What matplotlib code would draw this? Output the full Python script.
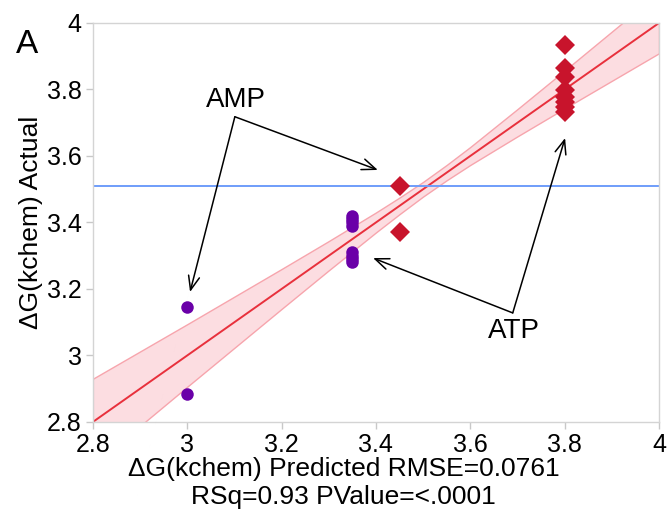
"""Actual by predicted plot for dG(kchem) with AMP / ATP groups."""

import matplotlib

matplotlib.use("Agg")
import matplotlib.pyplot as plt

plt.rcParams["font.family"] = ["Liberation Sans", "DejaVu Sans"]

# AMP (purple circles)
amp_predicted = [3.0, 3.0, 3.35, 3.35, 3.35, 3.35, 3.35, 3.35, 3.35, 3.35]
amp_actual = [3.145, 2.885, 3.42, 3.41, 3.40, 3.39, 3.31, 3.30, 3.29, 3.28]

# ATP (red diamonds)
atp_predicted = [3.45, 3.45, 3.8, 3.8, 3.8, 3.8, 3.8, 3.8, 3.8, 3.8]
atp_actual = [3.51, 3.37, 3.934, 3.864, 3.838, 3.798, 3.778, 3.763, 3.748, 3.733]

# fit line (actual = predicted) and its confidence band
fit_x = [2.8, 4.0]
fit_y = [2.8, 4.0]
band_x = [2.8, 3.0, 3.2, 3.3, 3.4, 3.45, 3.5, 3.55, 3.6, 3.7, 3.8, 3.9, 4.0]
band_upper = [2.930, 3.094, 3.260, 3.344, 3.430, 3.475, 3.522, 3.573,
              3.627, 3.741, 3.857, 3.974, 4.091]
band_lower = [2.670, 2.906, 3.140, 3.256, 3.370, 3.425, 3.478, 3.527,
              3.573, 3.659, 3.743, 3.826, 3.909]
mean_actual = 3.511

x_ticks = [2.8, 3.0, 3.2, 3.4, 3.6, 3.8, 4.0]
x_tick_labels = ["2.8", "3", "3.2", "3.4", "3.6", "3.8", "4"]
y_ticks = [2.8, 3.0, 3.2, 3.4, 3.6, 3.8, 4.0]
y_tick_labels = ["2.8", "3", "3.2", "3.4", "3.6", "3.8", "4"]

fig = plt.figure(figsize=(6.68, 5.2), dpi=100)
ax = fig.add_axes([0.139, 0.1885, 0.8475, 0.7673])

ax.fill_between(band_x, band_lower, band_upper, facecolor="#fcdde1",
                edgecolor="#f7a5ad", linewidth=1.0, zorder=1)
ax.plot(fit_x, fit_y, color="#e8303c", linewidth=1.4, zorder=2)
ax.axhline(mean_actual, color="#6f9dfa", linewidth=1.4, zorder=2)

ax.plot(amp_predicted, amp_actual, "o", color="#6a00a8", markersize=9,
        markeredgewidth=0, zorder=3)
ax.plot(atp_predicted, atp_actual, "D", color="#c8142c", markersize=10.5,
        markeredgewidth=0, zorder=3)

arrow = dict(arrowstyle="->,head_length=1.0,head_width=0.4", color="black",
             linewidth=1.1, shrinkA=0, shrinkB=0)
ax.text(3.103, 3.768, "AMP", fontsize=20, ha="center", va="center")
ax.annotate("", xy=(3.404, 3.558), xytext=(3.101, 3.718), arrowprops=arrow)
ax.annotate("", xy=(3.006, 3.191), xytext=(3.101, 3.718), arrowprops=arrow)
ax.text(3.693, 3.073, "ATP", fontsize=20, ha="center", va="center")
ax.annotate("", xy=(3.394, 3.293), xytext=(3.690, 3.128), arrowprops=arrow)
ax.annotate("", xy=(3.801, 3.654), xytext=(3.690, 3.128), arrowprops=arrow)

ax.set_xlim(2.8, 4.0)
ax.set_ylim(2.8, 4.0)
ax.set_xticks(x_ticks)
ax.set_xticklabels(x_tick_labels)
ax.set_yticks(y_ticks)
ax.set_yticklabels(y_tick_labels)
ax.tick_params(labelsize=18, color="#c8c8c8", length=5, width=1, pad=3)
for spine in ax.spines.values():
    spine.set_color("#d4d4d4")
    spine.set_linewidth(1.0)

ax.set_xlabel("ΔG(kchem) Predicted RMSE=0.0761\nRSq=0.93 PValue=<.0001",
              fontsize=19, linespacing=1.25)
ax.xaxis.set_label_coords(0.443, -0.087, transform=ax.transAxes)
ax.xaxis.label.set_va("top")
ax.set_ylabel("ΔG(kchem) Actual", fontsize=19, labelpad=3)

fig.text(0.04, 0.915, "A", fontsize=24, ha="center", va="center")

fig.savefig("out.png", dpi=100)
